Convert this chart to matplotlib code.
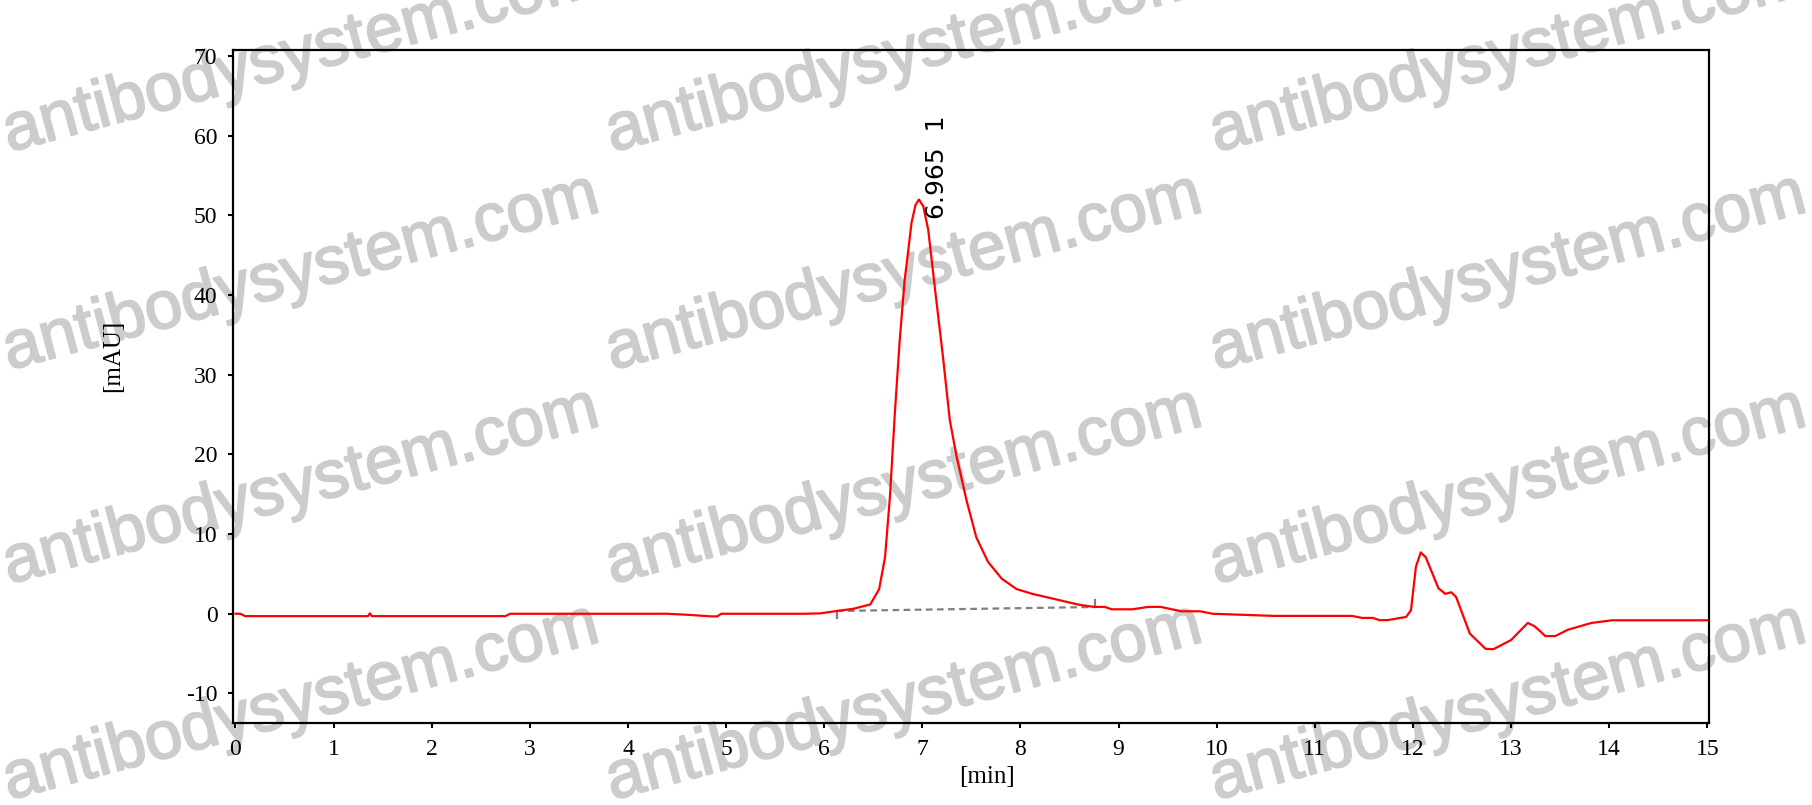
import matplotlib
matplotlib.use("Agg")
import matplotlib.pyplot as plt
import matplotlib.patheffects as pe

# ---------------- data ----------------
time_min = [0.00, 0.05, 0.10, 1.35, 1.37, 1.39, 2.75, 2.80, 4.40, 4.60, 4.85, 4.91, 4.95,
            5.80, 5.96, 6.13, 6.30, 6.47, 6.56, 6.62, 6.67, 6.72, 6.77, 6.82, 6.85, 6.89,
            6.93, 6.965, 7.01, 7.06, 7.13, 7.21, 7.28, 7.35, 7.45, 7.55, 7.67, 7.81, 7.96,
            8.12, 8.33, 8.59, 8.70, 8.76, 8.86, 8.93, 9.14, 9.30, 9.43, 9.64, 9.83, 9.96,
            10.59, 11.38, 11.48, 11.59, 11.66, 11.74, 11.93, 11.98, 12.03, 12.08, 12.13,
            12.26, 12.33, 12.39, 12.44, 12.58, 12.74, 12.82, 13.00, 13.17, 13.24, 13.35,
            13.45, 13.58, 13.82, 14.03, 15.00]
signal_mau = [0.0, 0.0, -0.3, -0.3, 0.05, -0.3, -0.3, 0.0, 0.0, -0.12, -0.33, -0.33, 0.0,
              0.0, 0.05, 0.35, 0.63, 1.17, 3.1, 7.1, 14.7, 25.2, 34.4, 41.9, 44.9, 49.1,
              51.3, 52.0, 51.15, 48.2, 40.7, 32.3, 24.3, 19.7, 14.25, 9.6, 6.5, 4.4, 3.1,
              2.5, 1.9, 1.15, 0.94, 0.86, 0.86, 0.56, 0.56, 0.86, 0.86, 0.31, 0.31, 0.0,
              -0.27, -0.27, -0.52, -0.52, -0.8, -0.8, -0.4, 0.44, 5.9, 7.7, 7.1,
              3.2, 2.5, 2.7, 2.1, -2.5, -4.4, -4.45, -3.3, -1.15, -1.57, -2.8,
              -2.8, -2.0, -1.15, -0.82, -0.82]

# integration baseline of peak 1
baseline_x = [6.13, 8.76]
baseline_y = [0.35, 0.85]

peak_rt = 6.965
peak_number = "1"
label_pos = (7.145, 49.6)

x_ticks = list(range(0, 16))
y_ticks = list(range(-10, 71, 10))
x_label = "[min]"
y_label = "[mAU]"
watermark = "antibodysystem.com"

# ---------------- figure ----------------
plt.rcParams['axes.unicode_minus'] = False
W, H = 1812, 805
fig = plt.figure(figsize=(W / 100, H / 100), dpi=100)
fig.patch.set_facecolor("white")

L, R, T, B = 232.7, 1709.0, 50.0, 723.3
ax = fig.add_axes([L / W, 1 - B / H, (R - L) / W, (B - T) / H])
ax.set_facecolor("none")

ax.plot(time_min, signal_mau, color="#ff0000", lw=1.6, zorder=3, solid_joinstyle="round")
ax.plot(baseline_x, baseline_y, color="#7f7f7f", lw=1.6, ls=(0, (3, 2)), zorder=2)
ax.plot([baseline_x[0], baseline_x[0]], [baseline_y[0], baseline_y[0] - 0.9],
        color="#7f7f7f", lw=1.6, zorder=2)
ax.plot([baseline_x[1], baseline_x[1]], [baseline_y[1], baseline_y[1] + 0.9],
        color="#7f7f7f", lw=1.6, zorder=2)

ax.text(label_pos[0], label_pos[1], f"{peak_rt:.3f}  {peak_number}", rotation=90,
        ha="center", va="bottom", fontsize=18, family="DejaVu Sans", color="black")

ax.set_xlim(-0.028, 15.017)
ax.set_ylim(-13.75, 70.77)
ax.set_xticks(x_ticks)
ax.set_yticks(y_ticks)
ax.set_xticklabels([str(v) for v in x_ticks])
ax.set_yticklabels([str(v) for v in y_ticks])

for s in ax.spines.values():
    s.set_linewidth(1.6)
    s.set_color("black")

ax.tick_params(axis="both", direction="out", length=3.8, width=1.5, color="black",
               labelsize=17, pad=7.2)
for lab in ax.get_xticklabels() + ax.get_yticklabels():
    lab.set_family("Liberation Serif")

fig.text(987 / W, 1 - 777 / H, x_label, ha="center", va="center",
         fontsize=18, family="Liberation Serif")
fig.text(113 / W, 1 - 356 / H, y_label, ha="center", va="center", rotation=90,
         fontsize=18, family="Liberation Serif")

# watermark grid
wm_cols = [9, 612, 1216]
wm_rows = [152, 370, 584, 800]
wm_color = "#cccccc"
for cx in wm_cols:
    for ry in wm_rows:
        fig.text(cx / W, 1 - ry / H, watermark, rotation=15, rotation_mode="anchor",
                 ha="left", va="baseline", fontsize=48.5, family="Liberation Sans",
                 color=wm_color, zorder=-1,
                 path_effects=[pe.withStroke(linewidth=1.4, foreground=wm_color)])

fig.savefig("out.png", dpi=100, facecolor="white")
